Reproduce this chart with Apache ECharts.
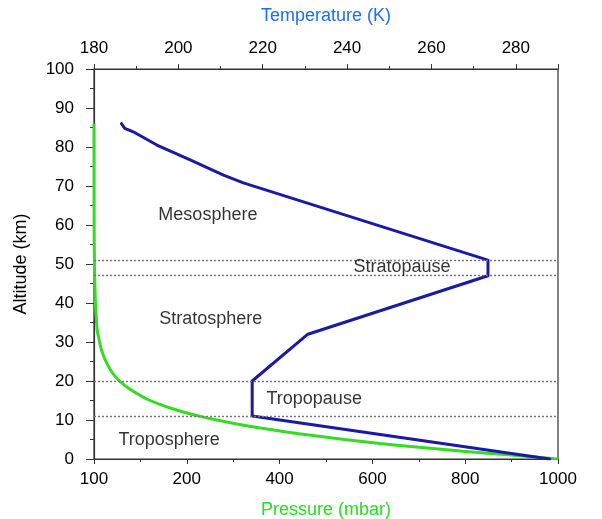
<!DOCTYPE html>
<html>
<head>
<meta charset="utf-8">
<title>Atmosphere profile</title>
<script src="https://cdn.jsdelivr.net/npm/echarts@6/dist/echarts.min.js"></script>
<style>
  html, body { margin: 0; padding: 0; background: #fff; }
  #chart { width: 602px; height: 519px; }
</style>
</head>
<body>
<div id="chart"></div>
<script>
(function () {
  'use strict';

  // temperature profile (K) against altitude (km)
  const tempK = [186.5, 187.3, 189.3, 194.9, 202.8, 210.7, 215.4, 273.4, 273.4, 230.7, 217.5, 217.5, 288];
  const tempAlt = [86, 84.8, 83.9, 80.5, 76.7, 72.8, 70.8, 51, 47, 32, 20, 11, 0];

  // pressure profile (mbar) against altitude (km)
  const pressure = [1000, 899, 795, 701, 616, 540, 472, 411, 356, 308, 265, 227, 194, 166, 142, 121, 104, 76, 55, 40, 30, 22, 16, 12, 7, 5, 3, 1, 0.2, 0];
  const pressAlt = [0, 1, 2, 3, 4, 5, 6, 7, 8, 9, 10, 11, 12, 13, 14, 15, 16, 18, 20, 22, 24, 26, 28, 30, 33, 36, 40, 50, 60, 86];

  // layer boundaries (km)
  const boundaries = [11, 20, 47, 51];

  // region labels, placed in temperature / altitude space
  const regionNames = ['Mesosphere', 'Stratopause', 'Stratosphere', 'Tropopause', 'Troposphere'];
  const regionTemp = [207, 253, 207.7, 232.2, 197.8];
  const regionAlt = [62.6, 49.3, 35.9, 15.4, 4.9];

  // bottom axis tick labels at 0, 200, ... 1000
  const pressureTicks = ['100', '200', '400', '600', '800', '1000'];

  const font = 'Liberation Sans, Arial, Helvetica, sans-serif';
  const axisColor = '#333';

  const chart = echarts.init(document.getElementById('chart'));

  chart.setOption({
    animation: false,
    textStyle: { fontFamily: font },
    grid: {
      left: 94, right: 44, top: 69, bottom: 60, outerBoundsMode: 'none',
      show: true, borderColor: axisColor, borderWidth: 1.2
    },
    xAxis: [
      {
        type: 'value', position: 'bottom', min: 0, max: 1000, interval: 200,
        name: 'Pressure (mbar)', nameLocation: 'middle', nameGap: 42,
        nameTextStyle: { color: '#22e022', fontSize: 18, fontFamily: font },
        axisLine: { show: true, lineStyle: { color: axisColor, width: 1.2 } },
        axisTick: { show: true, length: 5, lineStyle: { color: axisColor } },
        minorTick: { show: true, splitNumber: 2, length: 3, lineStyle: { color: axisColor } },
        axisLabel: {
          color: '#000', fontSize: 17, margin: 12, fontFamily: font,
          formatter: v => pressureTicks[Math.round(v / 200)]
        },
        splitLine: { show: false }
      },
      {
        type: 'value', position: 'top', min: 180, max: 290, interval: 20,
        name: 'Temperature (K)', nameLocation: 'middle', nameGap: 44,
        nameTextStyle: { color: '#1e6ef2', fontSize: 18, fontFamily: font },
        axisLine: { show: true, lineStyle: { color: axisColor, width: 1.2 } },
        axisTick: { show: true, length: 5, lineStyle: { color: axisColor } },
        minorTick: { show: true, splitNumber: 2, length: 3, lineStyle: { color: axisColor } },
        axisLabel: { color: '#000', fontSize: 17, margin: 12, showMaxLabel: false, fontFamily: font },
        splitLine: { show: false }
      }
    ],
    yAxis: {
      type: 'value', min: 0, max: 100, interval: 10,
      name: 'Altitude (km)', nameLocation: 'middle', nameGap: 64,
      nameTextStyle: { color: '#000', fontSize: 18, fontFamily: font },
      axisLine: { show: true, lineStyle: { color: axisColor, width: 1.2 } },
      axisTick: { show: true, length: 8, lineStyle: { color: axisColor } },
      minorTick: { show: true, splitNumber: 2, length: 4, lineStyle: { color: axisColor } },
      axisLabel: { color: '#000', fontSize: 17, margin: 20, fontFamily: font },
      splitLine: { show: false }
    },
    series: [
      {
        name: 'Pressure', type: 'line', xAxisIndex: 0, smooth: 0.3,
        symbol: 'none', z: 3,
        lineStyle: { color: '#33dd22', width: 3 },
        data: pressure.map((p, i) => [p, pressAlt[i]])
      },
      {
        name: 'Temperature', type: 'line', xAxisIndex: 1,
        symbol: 'none', z: 4,
        lineStyle: { color: '#1a1aa6', width: 3, join: 'round', cap: 'round' },
        data: tempK.map((t, i) => [t, tempAlt[i]]),
        markLine: {
          silent: true, symbol: 'none', label: { show: false },
          lineStyle: { color: '#777', type: [2, 2], width: 1.4 },
          data: boundaries.map(b => ({ yAxis: b }))
        }
      },
      {
        name: 'Regions', type: 'scatter', xAxisIndex: 1,
        symbolSize: 0, silent: true, z: 5,
        label: {
          show: true, position: [0, 0], align: 'center', verticalAlign: 'middle',
          formatter: '{b}', color: '#000', textBorderWidth: 0,
          fontSize: 18, fontFamily: font
        },
        data: regionNames.map((n, i) => ({ name: n, value: [regionTemp[i], regionAlt[i]] }))
      }
    ]
  });
})();
</script>
</body>
</html>
